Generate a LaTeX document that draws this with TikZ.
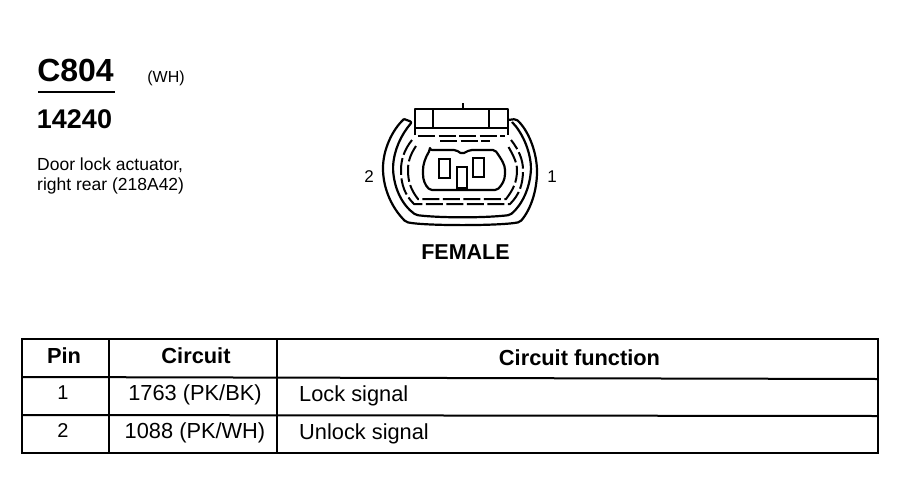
\documentclass[tikz,border=0pt]{standalone}
\usepackage{fontspec}
\setmainfont{Liberation Sans}
\usetikzlibrary{positioning, calc}
\begin{document}
\begin{tikzpicture}[
    x=1pt, y=-1pt,
    plain label/.style={font=\fontsize{17}{17}\selectfont, inner sep=0pt, anchor=center},
    small label/.style={font=\fontsize{17.5}{17.5}\selectfont, inner sep=0pt, anchor=center},
    title label/.style={font=\bfseries\fontsize{#1}{#1}\selectfont, inner sep=0pt, anchor=center},
    head cell/.style={font=\bfseries\fontsize{21.8}{21.8}\selectfont, inner sep=0pt, anchor=center},
    body cell/.style={font=\fontsize{21.8}{21.8}\selectfont, inner sep=0pt, anchor=center},
    shell line/.style={line width=2.2pt, line join=round, rounded corners=2pt},
    seal line/.style={line width=2pt, dash pattern=on 17pt off 3.5pt},
    rule line/.style={line width=2pt}
]
    \useasboundingbox (0,0) rectangle (908,496);

    % Title block
    \node[title label=32] (conn_id) at (75.5,70) {C804};
    \node[small label, font=\fontsize{16}{16}\selectfont] (conn_color) at (166,78) {(WH)};
    \draw[line width=1.5pt] (38,92) -- (115,92);
    \node[title label=27] (part_no) at (74.5,119) {14240};
    \node[small label, anchor=west] (desc_a) at (37,165) {Door lock actuator,};
    \node[small label, anchor=west] (desc_b) at (37,186) {right rear (218A42)};

    % Connector outer shell
    \draw[shell line] (404,119) .. controls (392,130) and (383,150) .. (383,170)
        .. controls (384,190) and (392,208) .. (406,222)
        .. controls (425,226) and (500,226) .. (520,222)
        .. controls (532,208) and (537,188) .. (537,170)
        .. controls (536,150) and (528,130) .. (516,119) -- (508,120);
    \draw[shell line] (404,119) -- (412,122) .. controls (401,135) and (394,150) .. (393,168)
        .. controls (394,188) and (402,205) .. (416,215)
        .. controls (440,218) and (485,218) .. (510,215)
        .. controls (522,205) and (530,188) .. (531,168)
        .. controls (530,150) and (522,132) .. (512,122);

    % Locking tab
    \draw[shell line, rounded corners=0pt] (415,135) -- (415,109) -- (508,109) -- (508,135);
    \draw[line width=2.2pt] (433,109) -- (433,128) -- (489,128) -- (489,109);
    \draw[line width=1.5pt] (463,103) -- (463,109);
    \draw[line width=2.2pt] (415,128) -- (433,128) (489,128) -- (508,128);

    % Dashed seal lines
    \draw[seal line] (418,136) -- (505,136);
    \draw[seal line] (440,141) -- (490,141);
    \draw[seal line] (412,140) .. controls (404,150) and (401,160) .. (401,170)
        .. controls (401,185) and (405,195) .. (414,204) -- (510,204)
        .. controls (519,195) and (523,185) .. (523,170)
        .. controls (523,160) and (519,150) .. (511,140);
    \draw[seal line] (416,146) .. controls (410,155) and (408,162) .. (408,170)
        .. controls (408,182) and (411,190) .. (418,199) -- (506,199)
        .. controls (513,190) and (517,182) .. (517,170)
        .. controls (517,162) and (513,155) .. (508,146);

    % Inner body with pins
    \draw[shell line] (430,150) -- (456,150) -- (462,154) -- (470,150) -- (495,150)
        .. controls (502,160) and (505,165) .. (505,172)
        .. controls (505,180) and (502,185) .. (497,190)
        -- (430,190) .. controls (425,185) and (423,180) .. (423,172)
        .. controls (423,165) and (425,158) .. (430,150) -- cycle;
    \draw[line width=2.4pt, fill=white] (439,159) rectangle (450,178);
    \draw[line width=2.4pt, fill=white] (473,158) rectangle (484,177);
    \draw[line width=2.4pt, fill=white] (457,167) rectangle (467,188);

    % Pin numbers and view label
    \node[plain label] (pin_two) at (369,177) {2};
    \node[plain label] (pin_one) at (552,177) {1};
    \node[title label=21.5] (view_lbl) at (465.5,252) {FEMALE};

    % Table
    \draw[rule line] (22,339) rectangle (878,453);
    \draw[rule line] (22,377) -- (878,379);
    \draw[rule line] (22,415) -- (878,416);
    \draw[rule line] (109,339) -- (109,453);
    \draw[rule line] (277,339) -- (277,453);

    \node[head cell] (hd_pin) at (64,356) {Pin};
    \node[head cell] (hd_circuit) at (196,356) {Circuit};
    \node[head cell] (hd_func) at (579.5,358) {Circuit function};

    \node[body cell, font=\fontsize{20}{20}\selectfont] (pin_a) at (63,393) {1};
    \node[body cell] (circ_a) at (195,394.5) {1763 (PK/BK)};
    \node[body cell, anchor=west] (func_a) at (299,395.5) {Lock signal};

    \node[body cell, font=\fontsize{20}{20}\selectfont] (pin_b) at (63,431) {2};
    \node[body cell] (circ_b) at (195,432.5) {1088 (PK/WH)};
    \node[body cell, anchor=west] (func_b) at (299,433.5) {Unlock signal};
\end{tikzpicture}
\end{document}
